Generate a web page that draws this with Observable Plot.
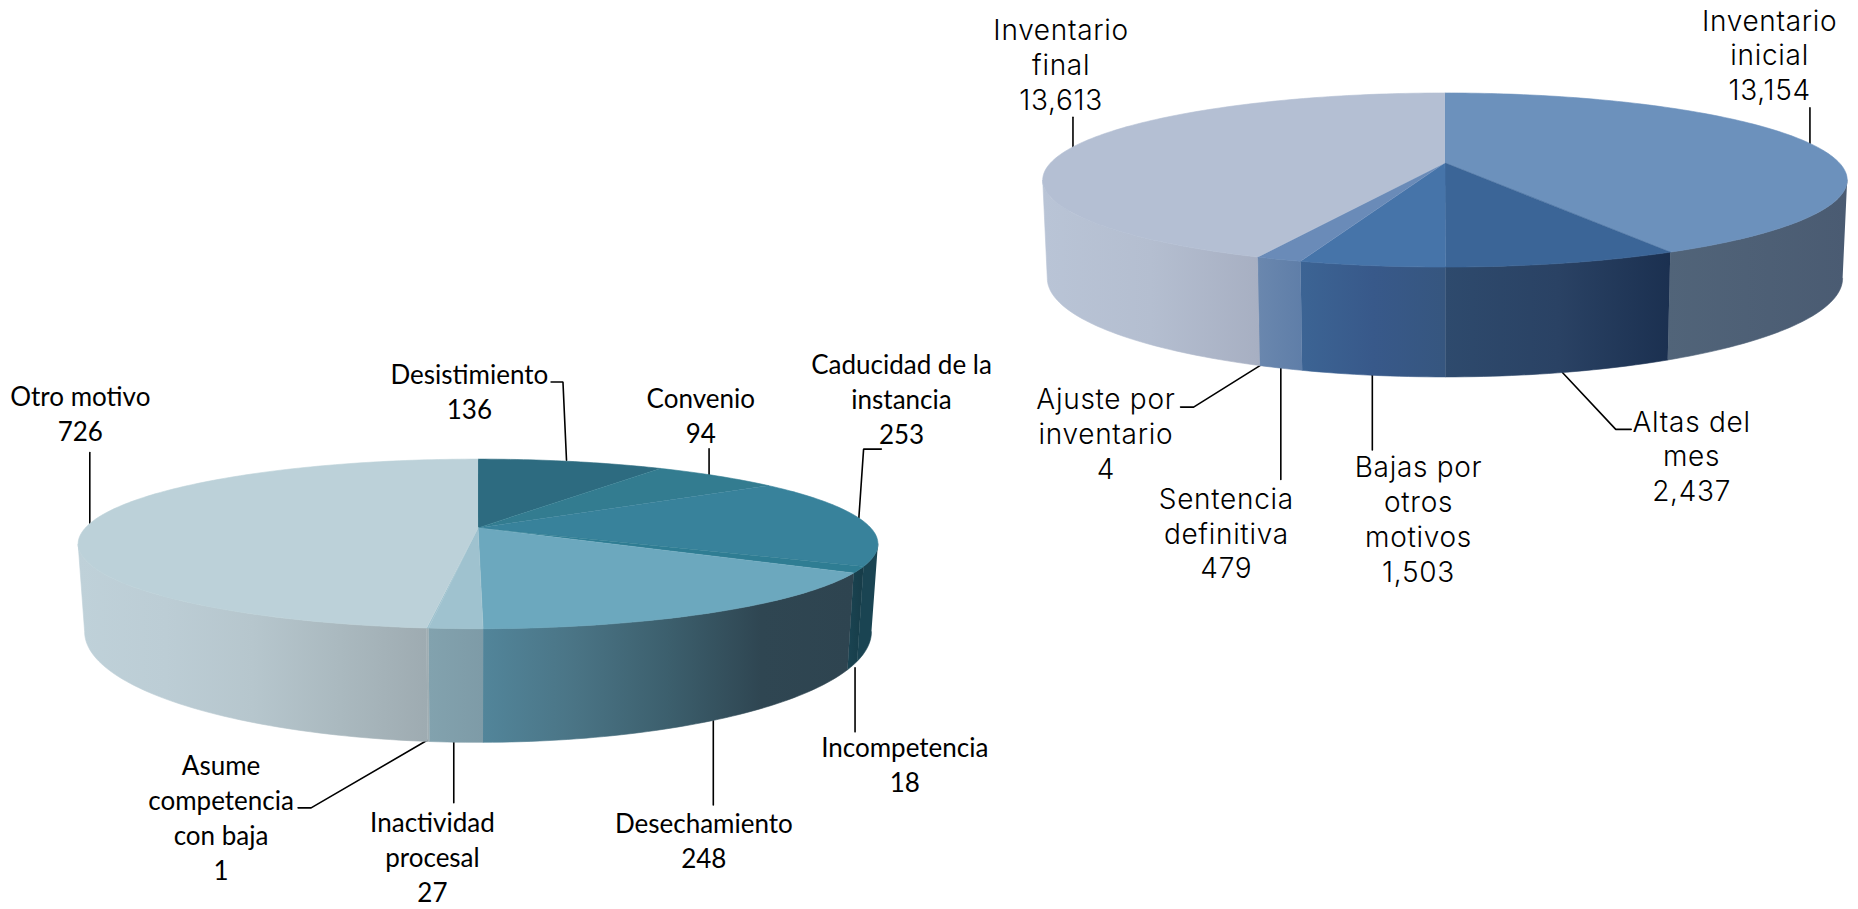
<!DOCTYPE html>
<html><head><meta charset="utf-8">
<script src="https://cdn.jsdelivr.net/npm/d3@7"></script>
<script src="https://cdn.jsdelivr.net/npm/@observablehq/plot@0.6"></script>
<style>html,body{margin:0;padding:0;background:#fff}svg{display:block}.inv text{letter-spacing:.7px}</style>
</head><body><div id="chart"></div>
<script>
// ---- data ----
const motivoLabels = ["Desistimiento","Convenio","Caducidad de la\ninstancia","Incompetencia","Desechamiento","Inactividad\nprocesal","Asume\ncompetencia\ncon baja","Otro motivo"];
const motivoValues = [136,94,253,18,248,27,1,726];
const inventarioLabels = ["Inventario\ninicial","Altas del\nmes","Bajas por\notros\nmotivos","Sentencia\ndefinitiva","Ajuste por\ninventario","Inventario\nfinal"];
const inventarioValues = [13154,2437,1503,479,4,13613];

// ---- styles ----
const motivoTops = ["#2d6b80","#337c90","#38829b","#2f7d93","#6ca8be","#9fc2cf","#9fc2cf","#bcd1d9"];
const motivoSides = [["#2d6b80","#2d6b80"],["#337c90","#337c90"],["#1a4452","#1a4452"],["#1a4452","#173c48"],["#52859a","#4a7485","#3c5f6d","#2f4652","#2e4450"],["#82a2ae","#7e9ba7"],["#a0aeb3","#a0aeb3"],["#bfd1d9","#bccdd5","#b6c6cd","#aab9bf","#9eabb1"]];
const inventarioTops = ["#6c91bc","#3b6597","#4674a9","#6a8bb8","#6a8bb8","#b4bfd3"];
const inventarioSides = [["#516479","#4a5b72"],["#2e4a6d","#2a4264","#1b3050"],["#3c6494","#38598a","#36567f"],["#6a87ae","#5f7ea8"],["#5f7ea8","#5f7ea8"],["#b9c4d6","#b4bed0","#a7afc2"]];

// ---- layout (in reference units) ----
const motivoGeom = {cx:403, apexY:445, A:331.4, B:69, k:0.189, A1:326, B1:90, apexY1:515};
const inventarioGeom = {cx:1219, apexY:137, A:332.8, B:70.6, k:0.197, A1:329, B1:80, apexY1:218};
// label offset and leader waypoints, relative to each slice's rim anchor
const motivoLabelOffsets = [[-86,-56],[-14,-48],[32,-100],[44,87],[-6,104],[-20,100],[-175,67],[-8,-90]];
const motivoLeaders = [[[-4,-1],[-7,-67],[-17,-67]],[[-7,-1],[-7,-23]],[[-4,-3],[0,-61],[15,-61]],[[2,2],[2,56]],[[2,0],[2,71]],[[-2,0],[-2,51]],[[-1,-1],[-99,56],[-110,56]],[[0,0],[0,-60]]];
const inventarioLabelOffsets = [[-34,-71],[109,74],[39,125],[-46,143],[-130,61],[-10,-66]];
const inventarioLeaders = [[[0,0],[0,-30]],[[0,0],[45,48],[58,48]],[[0,0],[0,63]],[[0,0],[0,94]],[[0,0],[-56,35],[-67,35]],[[0,0],[0,-25]]];
const W = 1858, H = 909, refW = 1568, refH = 767;

function buildPie(name, labels, values, tops, sides, g, labelOffsets, leaders) {
  const total = d3.sum(values);
  const toAngle = v => v / total * 2 * Math.PI;
  const top = a => { const X = Math.sin(a), Y = Math.cos(a), w = 1 + g.k * Y;
    return [g.cx + g.A * X / w, g.apexY - g.B * Y / w]; };
  const bottom = a => { const X = Math.sin(a), Y = Math.cos(a), w = 1 + g.k * Y;
    return [g.cx + g.A1 * X / w, g.apexY1 - g.B1 * Y / w]; };
  const topRows = [], sideMarks = [], gradients = [], leaderRows = [], textRows = [];
  const frontFrom = Math.PI / 2 + Math.asin(g.k), frontTo = 3 * Math.PI / 2 - Math.asin(g.k);
  let cum = 0;
  values.forEach((v, i) => {
    const a0 = toAngle(cum), a1 = toAngle(cum + v); cum += v;
    const steps = Math.max(2, Math.ceil((a1 - a0) / 0.02));
    const poly = [[g.cx, g.apexY]];
    for (let s = 0; s <= steps; s++) poly.push(top(a0 + (a1 - a0) * s / steps));
    poly.forEach(p => topRows.push({x: p[0], y: p[1], id: name + i, fill: tops[i]}));
    const b0 = Math.max(a0, frontFrom), b1 = Math.min(a1, frontTo);
    if (b1 > b0) {
      const n = Math.max(2, Math.ceil((b1 - b0) / 0.02));
      const upper = [], lower = [];
      for (let s = 0; s <= n; s++) {
        const a = b0 + (b1 - b0) * s / n;
        upper.push(top(a)); lower.push(bottom(a));
      }
      const gid = "grad-" + name + i;
      gradients.push({id: gid, stops: sides[i]});
      sideMarks.push(Plot.line([...upper, ...lower.reverse()].map(p => ({x: p[0], y: p[1]})),
        {x:"x", y:"y", fill:`url(#${gid})`, stroke:`url(#${gid})`, strokeWidth:0.6}));
    }
    const m = (a0 + a1) / 2;
    const anchor = Math.cos(m) < -0.3 ? bottom(m) : top(m);
    leaders[i].forEach(o => leaderRows.push({x: anchor[0] + o[0], y: anchor[1] + o[1], id: name + "l" + i}));
    textRows.push({x: anchor[0] + labelOffsets[i][0], y: anchor[1] + labelOffsets[i][1],
      text: labels[i] + "\n" + d3.format(",")(v)});
  });
  return {topRows, sideMarks, gradients, leaderRows, textRows};
}

const pieA = buildPie("m", motivoLabels, motivoValues, motivoTops, motivoSides, motivoGeom, motivoLabelOffsets, motivoLeaders);
const pieB = buildPie("i", inventarioLabels, inventarioValues, inventarioTops, inventarioSides, inventarioGeom, inventarioLabelOffsets, inventarioLeaders);

const gradientDefs = () => {
  const defs = d3.create("svg:defs");
  [...pieA.gradients, ...pieB.gradients].forEach(gr => {
    const lg = defs.append("linearGradient").attr("id", gr.id);
    gr.stops.forEach((c, j) => lg.append("stop").attr("offset", j / (gr.stops.length - 1)).attr("stop-color", c));
  });
  return defs.node();
};
const faces = rows => Plot.line(rows, {x:"x", y:"y", z:"id", fill:"fill", stroke:"fill", strokeWidth:0.6, strokeLinejoin:"round"});
const leaderLines = rows => Plot.line(rows, {x:"x", y:"y", z:"id", stroke:"#000", strokeWidth:1.6, strokeLinejoin:"miter"});

const chart = Plot.plot({
  width: W, height: H, margin: 0,
  x: {domain:[0,refW], range:[0,W], axis:null},
  y: {domain:[0,refH], range:[0,H], axis:null},
  color: {type:"identity"},
  marks: [
    gradientDefs,
    leaderLines(pieA.leaderRows), leaderLines(pieB.leaderRows),
    ...pieA.sideMarks, faces(pieA.topRows),
    ...pieB.sideMarks, faces(pieB.topRows),
    Plot.text(pieA.textRows, {x:"x", y:"y", dy:-5, text:"text", fontFamily:"Lato", fontSize:26, lineHeight:1.345, fill:"#000", lineAnchor:"middle"}),
    Plot.text(pieB.textRows, {x:"x", y:"y", dy:-5, text:"text", className:"inv", fontFamily:"Inter", fontWeight:300, fontSize:28, lineHeight:1.24, fill:"#000", lineAnchor:"middle"})
  ]
});
document.getElementById("chart").append(chart);
</script></body></html>
